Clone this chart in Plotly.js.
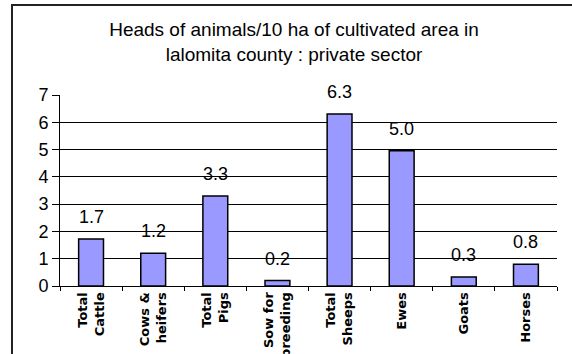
<!DOCTYPE html>
<html>
<head>
<meta charset="utf-8">
<script src="https://cdn.plot.ly/plotly-3.0.1.min.js"></script>
<style>
html,body{margin:0;padding:0;background:#fff;}
#chart{width:572px;height:354px;}
</style>
</head>
<body>
<div id="chart"></div>
<script>
const categories = ["Total<br>Cattle", "Cows &amp;<br>heifers", "Total<br>Pigs", "Sow for<br>breeding", "Total<br>Sheeps", "Ewes", "Goats", "Horses"];
const values = [1.72, 1.2, 3.3, 0.2, 6.3, 4.96, 0.33, 0.8];
const yTicks = [0, 1, 2, 3, 4, 5, 6, 7];
const titleText = "Heads of animals/10 ha of cultivated area in<br>lalomita county : private sector";

const labelFont = {family: "Liberation Sans, Arial, sans-serif", size: 18, color: "#000"};

const annotations = categories.map((c, i) => ({
  x: c, y: values[i], xref: "x", yref: "y",
  text: values[i].toFixed(1),
  showarrow: false, yanchor: "middle", yshift: 22,
  font: labelFont
}));

const data = [{
  type: "bar",
  x: categories,
  y: values,
  marker: {color: "#9999FF", line: {color: "#000", width: 1.5}},
  hoverinfo: "skip"
}];

const layout = {
  width: 572, height: 354,
  margin: {l: 60, r: 15, t: 95, b: 68},
  paper_bgcolor: "#fff", plot_bgcolor: "#fff",
  bargap: 0.6,
  showlegend: false,
  title: {
    text: titleText,
    font: {family: "Liberation Sans, Arial, sans-serif", size: 19, color: "#000"},
    x: 0.514, xanchor: "center",
    y: 0.898, yanchor: "middle"
  },
  xaxis: {
    type: "category",
    tickangle: -90,
    ticks: "outside", ticklen: 4, tickcolor: "#000", tickwidth: 1,
    tickson: "boundaries",
    showline: true, linecolor: "#000", linewidth: 1,
    showgrid: false,
    tickfont: {family: "DejaVu Sans, sans-serif", size: 13, color: "#000", weight: "bold"},
    fixedrange: true
  },
  yaxis: {
    range: [0, 7],
    tickvals: yTicks,
    ticktext: yTicks.map(String),
    ticks: "outside", ticklen: 7, tickcolor: "#000", tickwidth: 1,
    showline: true, linecolor: "#000", linewidth: 1,
    showgrid: true, gridcolor: "#000", gridwidth: 1,
    zeroline: false,
    tickfont: labelFont,
    fixedrange: true
  },
  annotations: annotations,
  shapes: [{
    type: "rect", xref: "paper", yref: "paper",
    x0: -0.0966, x1: 2, y0: -2, y1: 1.471,
    line: {color: "#222", width: 2}, fillcolor: "rgba(0,0,0,0)", layer: "above"
  }]
};

Plotly.newPlot("chart", data, layout, {staticPlot: true, displayModeBar: false});
</script>
</body>
</html>
